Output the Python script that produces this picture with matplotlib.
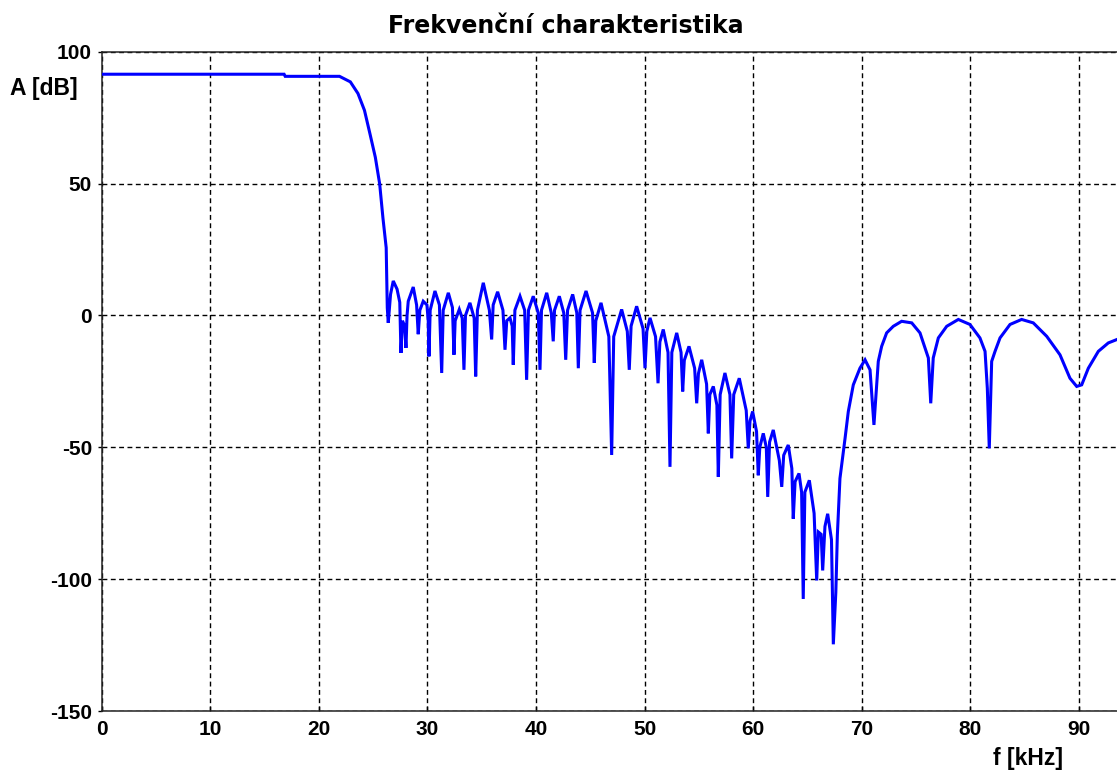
import numpy as np
import matplotlib
matplotlib.use("Agg")
import matplotlib.pyplot as plt

# Frekvenční charakteristika filtru - hodnoty odečtené z obrázku
# propustné pásmo + přechod
f_pass = [0.0, 16.8, 16.9, 21.9, 22.9, 23.6, 24.2, 24.7, 25.2, 25.6, 25.9, 26.2, 26.3]
a_pass = [91.5, 91.5, 90.7, 90.7, 88.6, 84.2, 77.8, 69.0, 60.0, 49.9, 37.0, 25.7, 2.9]

# zvlnění v nepropustném pásmu (26 - 68 kHz), vrcholy, ramena a zářezy
f_ripple = [26.39, 26.6, 26.85, 27.2, 27.45, 27.56, 27.7, 27.9, 28.02, 28.12,
            28.23, 28.69, 29.0, 29.15, 29.3, 29.61, 29.95, 30.07, 30.14, 30.25,
            30.69, 31.1, 31.31, 31.45, 31.92, 32.3, 32.44, 32.55, 32.93, 33.2,
            33.36, 33.5, 33.91, 34.3, 34.44, 34.6, 35.14, 35.7, 35.91, 36.05,
            36.46, 36.95, 37.14, 37.3, 37.6, 37.8, 37.9, 38.05, 38.52, 38.95,
            39.13, 39.3, 39.74, 40.2, 40.36, 40.5, 40.98, 41.4, 41.58, 41.7,
            42.14, 42.55, 42.73, 42.9, 43.37, 43.75, 43.89, 44.05, 44.6, 45.2,
            45.36, 45.5, 45.98, 46.7, 46.96, 47.15, 47.88, 48.4, 48.58, 48.75,
            49.26, 49.85, 50.03, 50.2, 50.49, 51.0, 51.23, 51.4, 51.71, 52.15,
            52.33, 52.5, 52.95, 53.35, 53.5, 53.65, 54.08, 54.6, 54.79, 54.95,
            55.25, 55.7, 55.86, 56.0, 56.32, 56.65, 56.78, 56.95, 57.39, 57.85,
            58.01, 58.2, 58.71, 59.35, 59.54, 59.7, 59.94, 60.3, 60.46, 60.6,
            60.92, 61.2, 61.33, 61.5, 61.84, 62.4, 62.62, 62.8, 63.22, 63.55,
            63.68, 63.85, 64.21, 64.45, 64.6, 64.75, 65.16, 65.6, 65.84, 65.99,
            66.25, 66.39, 66.6, 66.85, 67.2, 67.37, 67.6, 67.74]
a_ripple = [-2.8, 8.0, 13.1, 10.0, 5.0, -14.2, -2.0, -4.0, -12.3, 0.0,
            5.4, 10.8, 4.0, -7.1, 2.0, 5.4, 4.0, -2.0, -15.5, 2.0,
            9.3, 4.0, -21.8, 2.0, 8.6, 3.0, -14.9, -2.0, 2.3, -1.0,
            -20.6, 0.0, 4.8, -1.0, -23.1, 2.0, 12.4, 2.0, -9.1, 4.0,
            9.0, 2.0, -13.0, -2.0, -0.9, -4.0, -18.7, 2.0, 7.3, 2.0,
            -24.4, 2.0, 7.3, 1.0, -20.6, 2.0, 8.6, 1.0, -9.8, 2.0,
            7.3, 1.0, -16.8, 2.0, 8.0, 1.0, -20.0, 2.0, 9.3, 1.0,
            -18.0, -2.0, 4.8, -8.0, -52.9, -8.0, 2.3, -6.0, -20.6, -4.0,
            3.5, -5.0, -20.0, -6.0, -0.9, -8.0, -25.7, -10.0, -5.3, -14.0,
            -57.4, -14.0, -6.6, -14.0, -28.8, -17.0, -11.7, -20.0, -33.3, -22.0,
            -16.8, -26.0, -44.7, -30.0, -26.9, -34.0, -61.2, -30.0, -21.8, -30.0,
            -54.2, -30.0, -23.8, -36.0, -50.4, -40.0, -36.4, -44.0, -60.6, -50.0,
            -44.7, -50.0, -68.8, -48.0, -43.4, -55.0, -65.0, -53.0, -49.1, -58.0,
            -77.1, -63.0, -59.9, -67.0, -107.5, -67.0, -62.5, -75.0, -100.5, -82.1,
            -83.0, -96.7, -80.0, -75.2, -85.0, -124.7, -105.0, -83.4]

# nad 68 kHz - široké oblouky s úzkými zářezy
f_high = [67.98, 68.45, 68.75, 69.21, 69.82, 70.29, 70.75, 71.11, 71.51, 71.82,
          72.28, 72.89, 73.66, 74.59, 75.35, 75.81, 76.12, 76.34, 76.57, 77.04,
          77.81, 78.88, 79.95, 80.87, 81.34, 81.55, 81.73, 81.95, 82.26, 82.72,
          83.64, 84.71, 85.78, 87.02, 88.24, 89.16, 89.78, 90.24, 90.85, 91.77,
          92.69, 93.49]
a_high = [-61.8, -46.6, -36.4, -26.3, -20.0, -16.8, -20.6, -41.5, -17.4, -11.7,
          -6.6, -4.1, -2.2, -2.8, -6.6, -12.3, -16.1, -33.3, -16.1, -8.5,
          -4.1, -1.5, -3.4, -8.5, -13.6, -27.6, -50.4, -17.4, -13.6, -8.5,
          -3.4, -1.5, -2.8, -7.9, -14.9, -23.8, -26.9, -26.3, -20.0, -13.6,
          -10.4, -9.1]

x_ticks = [0, 10, 20, 30, 40, 50, 60, 70, 80, 90]
y_ticks = [-150, -100, -50, 0, 50, 100]

f = np.array(f_pass + f_ripple + f_high)
a = np.array(a_pass + a_ripple + a_high)

plt.rcParams['font.family'] = ['Liberation Sans', 'DejaVu Sans']
plt.rcParams['font.weight'] = 'bold'
plt.rcParams['axes.unicode_minus'] = False

fig = plt.figure(figsize=(11.17, 7.71), dpi=100)
ax = fig.add_axes([0.091, 0.0778, 0.909, 0.855])

ax.plot(f, a, color='#0000ff', linewidth=2.2, solid_joinstyle='miter', zorder=3)

ax.set_xlim(0, 93.49)
ax.set_ylim(-150, 100)
ax.set_xticks(x_ticks)
ax.set_yticks(y_ticks)
ax.grid(True, color='black', linewidth=1.0, linestyle=(0, (3.5, 2.5)))

ax.spines['right'].set_visible(False)
for s in ['left', 'top', 'bottom']:
    ax.spines[s].set_color('#222222')
    ax.spines[s].set_linewidth(1.1)

ax.tick_params(axis='x', direction='in', length=3.6, width=1.0, pad=6.5, labelsize=15)
ax.tick_params(axis='y', direction='out', length=3.0, width=1.0, pad=4, labelsize=15)
for lab in ax.get_xticklabels() + ax.get_yticklabels():
    lab.set_fontweight('bold')

fig.text(566 / 1117, 1 - 26 / 771, 'Frekvenční charakteristika', ha='center', va='center',
         fontsize=17, fontweight='bold', family='DejaVu Sans')
fig.text(10 / 1117, 1 - 88 / 771, 'A [dB]', ha='left', va='center', fontsize=16.5, fontweight='bold')
fig.text(1028 / 1117, 1 - 758 / 771, 'f [kHz]', ha='center', va='center', fontsize=16.5, fontweight='bold')

plt.savefig('out.png', dpi=100)
